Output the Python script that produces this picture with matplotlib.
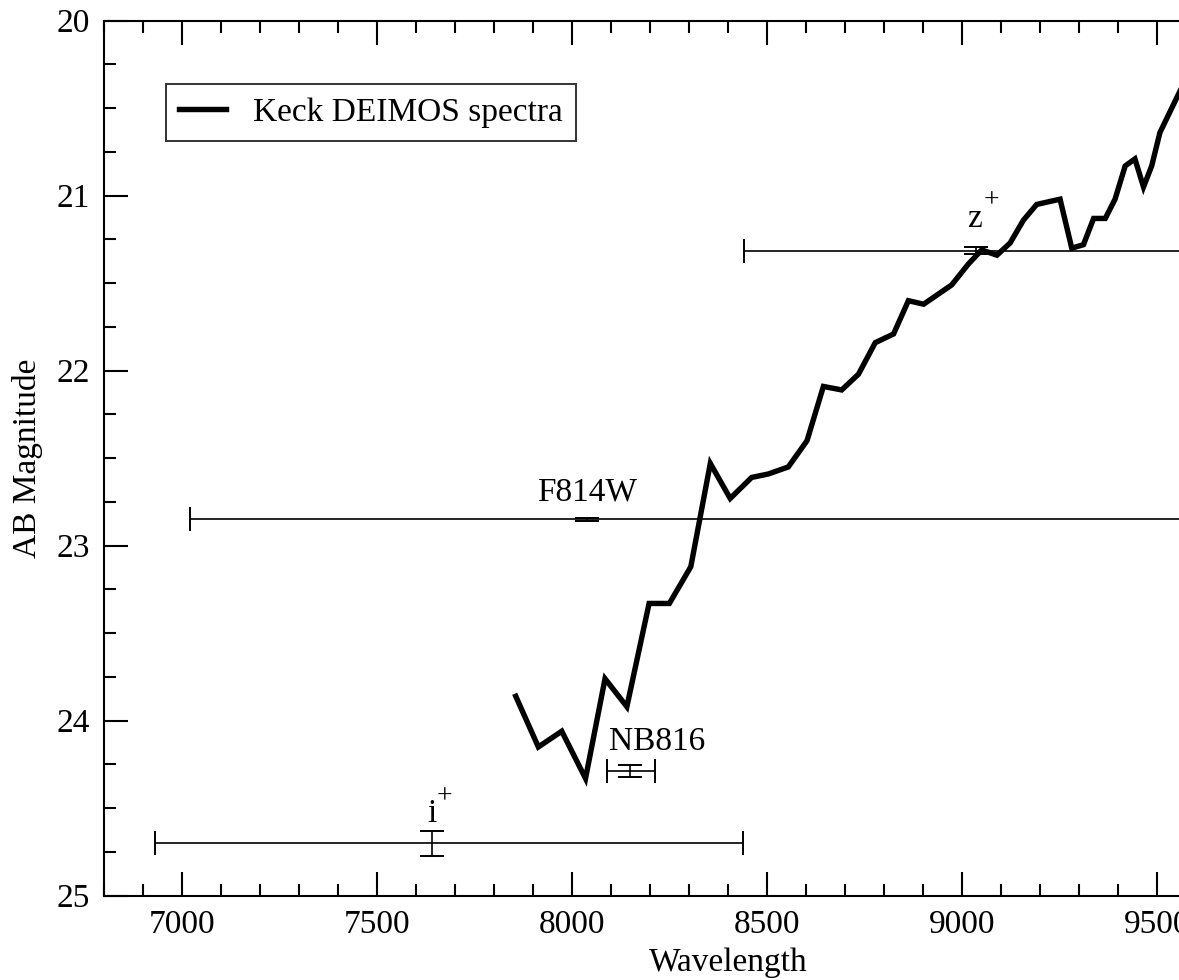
import numpy as np
import matplotlib
matplotlib.use("Agg")
import matplotlib.pyplot as plt
from matplotlib.ticker import MultipleLocator

plt.rcParams['font.family'] = ['Liberation Serif', 'DejaVu Serif']

# Keck DEIMOS spectrum
wave = [7856, 7914, 7974, 8035, 8085, 8141, 8198, 8250, 8305, 8355,
        8406, 8461, 8504, 8555, 8603, 8645, 8692, 8735, 8778, 8825,
        8863, 8902, 8974, 9017, 9051, 9090, 9124, 9158, 9192, 9252,
        9282, 9312, 9338, 9368, 9393, 9419, 9444, 9466, 9487, 9508,
        9521, 9560]
spec_mag = [23.86, 24.15, 24.06, 24.33, 23.76, 23.92, 23.33, 23.33, 23.12, 22.53,
            22.73, 22.61, 22.59, 22.55, 22.40, 22.09, 22.11, 22.02, 21.84, 21.79,
            21.60, 21.62, 21.51, 21.39, 21.31, 21.34, 21.27, 21.14, 21.05, 21.02,
            21.30, 21.28, 21.13, 21.13, 21.02, 20.83, 20.79, 20.95, 20.83, 20.64,
            20.58, 20.40]

# broad/narrow band photometry
bands = ['i', 'NB816', 'F814W', 'z']
band_sup = ['+', '', '', '+']
band_center = [7640, 8148, 8038, 9037]
band_lo = [6932, 8090, 7021, 8442]
band_hi = [8440, 8212, 9800, 10200]
band_mag = [24.70, 24.287, 22.85, 21.314]
band_err = [0.072, 0.035, 0.01, 0.02]
label_x = [7640, 8094, 8040, 9033]
label_y = [24.58, 24.17, 22.74, 21.18]
label_ha = ['center', 'left', 'center', 'center']
sup_dx = [9.0, 0, 0, 11.9]   # points
sup_dy = [18.5, 0, 0, 18.7]

fig = plt.figure(figsize=(11.79, 9.8), dpi=100)
# axis runs past the right edge of the picture (clipped, as in the original)
ax = fig.add_axes([0.0882, 0.0860, 1.0583, 0.8929])

ax.plot(wave, spec_mag, color='black', lw=3.9, solid_joinstyle='miter',
        label='Keck DEIMOS spectra')

for i in range(len(bands)):
    c = band_center[i]
    ax.errorbar(c, band_mag[i],
                xerr=[[c - band_lo[i]], [band_hi[i] - c]],
                yerr=band_err[i], fmt='none', ecolor='black',
                elinewidth=1.2, capsize=8.5, capthick=1.4)
    ax.text(label_x[i], label_y[i], bands[i], fontsize=24,
            ha=label_ha[i], va='baseline')
    if band_sup[i]:
        ax.annotate(band_sup[i], xy=(label_x[i], label_y[i]),
                    xytext=(sup_dx[i], sup_dy[i]), textcoords='offset points',
                    fontsize=20, ha='center', va='center')

ax.set_xlim(6800, 10000)
ax.set_ylim(25, 20)
ax.xaxis.set_major_locator(MultipleLocator(500))
ax.xaxis.set_minor_locator(MultipleLocator(100))
ax.yaxis.set_major_locator(MultipleLocator(1))
ax.yaxis.set_minor_locator(MultipleLocator(0.25))
ax.tick_params(which='both', direction='in', top=True, right=True,
               width=1.5, labelsize=24, pad=10)
ax.tick_params(which='major', length=17)
ax.tick_params(which='minor', length=8.5)
for s in ax.spines.values():
    s.set_linewidth(1.5)

ax.set_xlabel('Wavelength', fontsize=24, labelpad=5)
ax.set_ylabel('AB Magnitude', fontsize=24, labelpad=10)

leg = ax.legend(loc='upper left', bbox_to_anchor=(0.0568 * 1092 / 1247.7, 0.9277),
                borderaxespad=0, fontsize=24, frameon=True, fancybox=False,
                handlelength=1.4, handletextpad=0.8, borderpad=0.4)
leg.get_frame().set_edgecolor('black')
leg.get_frame().set_linewidth(1.4)

fig.savefig('out.png', dpi=100)
